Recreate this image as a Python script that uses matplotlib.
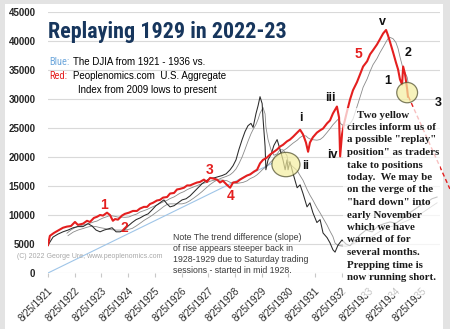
import numpy as np
import matplotlib
matplotlib.use("Agg")
import matplotlib.pyplot as plt
from matplotlib import font_manager
from matplotlib.patches import Ellipse, Rectangle

# Red: aggregate index 2009-present, shifted onto the 1921-1936 time axis
red_t = [1921.65, 1921.72, 1921.87, 1922.02, 1922.21, 1922.36, 1922.51, 1922.66, 1922.77, 1922.96,
         1923.11, 1923.22, 1923.37, 1923.49, 1923.60, 1923.71, 1923.86, 1923.97, 1924.08, 1924.16,
         1924.27, 1924.42, 1924.53, 1924.68, 1924.83, 1924.98, 1925.09, 1925.24, 1925.36, 1925.47,
         1925.58, 1925.73, 1925.84, 1925.96, 1926.11, 1926.22, 1926.37, 1926.48, 1926.59, 1926.74,
         1926.86, 1926.97, 1927.12, 1927.23, 1927.34, 1927.49, 1927.60, 1927.72, 1927.83, 1927.98,
         1928.09, 1928.20, 1928.35, 1928.47, 1928.58, 1928.73, 1928.84, 1928.95, 1929.10, 1929.22,
         1929.37, 1929.48, 1929.59, 1929.70, 1929.85, 1929.96, 1930.08, 1930.23, 1930.34, 1930.45,
         1930.60, 1930.71, 1930.83, 1930.98, 1931.09, 1931.20, 1931.31, 1931.39, 1931.46, 1931.57,
         1931.72, 1931.84, 1931.95, 1932.10, 1932.21, 1932.32, 1932.47, 1932.55, 1932.59, 1932.66,
         1932.74, 1932.85, 1932.96, 1933.07, 1933.22, 1933.34, 1933.45, 1933.60, 1933.71, 1933.82,
         1933.97, 1934.08, 1934.20, 1934.31, 1934.38, 1934.46, 1934.57, 1934.68, 1934.76, 1934.83,
         1934.91, 1934.95, 1935.02, 1935.10, 1935.13]
red_v = [4800, 6400, 6900, 7300, 7800, 8000, 8100, 8800, 8300, 8500,
         9000, 8800, 9500, 9700, 10000, 9900, 10400, 10000, 9000, 9300,
         9200, 9900, 10200, 10400, 10700, 10700, 11100, 11400, 11400, 11900,
         12100, 12500, 12600, 13000, 13100, 13700, 13800, 14400, 14500, 14700,
         15100, 15100, 15400, 15600, 15700, 16100, 15700, 16400, 16300, 16100,
         15600, 15900, 15200, 14700, 15600, 15700, 16100, 16400, 16800, 17000,
         17500, 17800, 18900, 19500, 19900, 20400, 20800, 21300, 21800, 22100,
         22700, 23000, 23500, 24200, 24700, 23900, 22500, 20900, 22500, 23400,
         24200, 24600, 24900, 25800, 26300, 27500, 28700, 26800, 20100, 23900,
         25800, 27900, 29900, 31500, 32900, 34300, 35600, 36500, 37700, 38400,
         39400, 40300, 41300, 41900, 41000, 39800, 38100, 36300, 35100, 33400,
         32500, 35600, 34300, 31700, 30400]

# projected "hard down" path
proj_t = [1935.15, 1936.70]
proj_v = [30400, 14500]

# Black: DJIA 1921-1936 (scaled)
dj_t = [1921.65, 1921.84, 1922.02, 1922.21, 1922.40, 1922.59, 1922.77, 1922.96, 1923.15, 1923.30,
        1923.45, 1923.60, 1923.75, 1923.90, 1924.05, 1924.20, 1924.35, 1924.50, 1924.65, 1924.80,
        1924.95, 1925.10, 1925.25, 1925.40, 1925.55, 1925.69, 1925.84, 1925.99, 1926.11, 1926.22,
        1926.37, 1926.52, 1926.67, 1926.82, 1926.97, 1927.12, 1927.27, 1927.42, 1927.57, 1927.72,
        1927.87, 1928.02, 1928.17, 1928.32, 1928.47, 1928.58, 1928.69, 1928.80, 1928.92, 1929.03,
        1929.14, 1929.25, 1929.33, 1929.44, 1929.52, 1929.59, 1929.67, 1929.70, 1929.78, 1929.81,
        1929.89, 1930.00, 1930.11, 1930.23, 1930.34, 1930.45, 1930.53, 1930.60, 1930.64, 1930.71,
        1930.83, 1930.98, 1931.09, 1931.20, 1931.35, 1931.46, 1931.57, 1931.72, 1931.84, 1931.95,
        1932.10, 1932.21, 1932.32, 1932.40, 1932.51, 1932.66, 1932.81, 1932.96, 1933.15, 1933.34,
        1933.56, 1933.79, 1934.01, 1934.23, 1934.46, 1934.68, 1934.91, 1935.13, 1935.36, 1935.58,
        1935.81, 1936.03, 1936.22]
dj_v = [4800, 6200, 6700, 7100, 7400, 7800, 8000, 8000, 8500, 8100,
        7400, 7100, 7400, 7600, 7800, 7100, 7100, 7400, 8100, 8700,
        9200, 9500, 9900, 10200, 10900, 11600, 12100, 12600, 11900, 11400,
        11600, 12100, 12600, 12800, 13300, 14000, 14700, 15400, 15900, 16300,
        16400, 16600, 16800, 17100, 17800, 18500, 19500, 21300, 23000, 24400,
        25400, 25800, 25100, 27500, 28900, 30400, 29200, 26800, 21800, 17800,
        19500, 20400, 22000, 23000, 21300, 19500, 17800, 19500, 17800, 19200,
        17100, 14700, 15200, 13700, 11400, 12100, 10400, 8700, 9200, 6900,
        6100, 5200, 4000, 3600, 4800, 5700, 5000, 4700, 5700, 6600,
        7400, 7100, 8100, 8500, 8800, 8600, 9300, 10200, 10900, 11600,
        12100, 12800, 13100]

trend_t = [1921.65, 1930.04]
trend_v = [0, 18900]

circle_t = [1930.56, 1935.10]
circle_v = [18700, 31100]

tick_years = list(range(1921, 1936))
y_ticks = list(range(0, 45001, 5000))

red_labels = [("1", 104, 205), ("2", 124, 228), ("3", 210, 170), ("4", 231, 196), ("5", 358, 54)]
wave_labels = [("i", 301, 118), ("ii", 306, 166), ("iii", 330, 98), ("iv", 332, 155),
               ("v", 382, 22), ("1", 388, 81), ("2", 408, 53), ("3", 438, 103)]

box_lines = ["Two yellow", "circles inform us of", 'a possible "replay"', 'position" as traders',
             "take to positions", "today.  We may be", "on the verge of the", '"hard down" into',
             "early November", "which we have", "warned of for", "several months.",
             "Prepping time is", "now running short."]
note_lines = ["Note The trend difference (slope)", "of rise appears steeper back in",
              "1928-1929 due to Saturday trading", "sessions - started in mid 1928."]

W, H = 450, 329
def fx(x):
    return x / W
def fy(y):
    return 1 - y / H

installed = {f.name for f in font_manager.fontManager.ttflist}
NARROW = next((n for n in ["Liberation Sans Narrow", "Roboto Condensed", "Open Sans Condensed",
                           "Arial Narrow", "Liberation Sans"] if n in installed), "DejaVu Sans")

RED = "#e41f1f"

fig = plt.figure(figsize=(W / 100, H / 100), dpi=100)
fig.patch.set_facecolor("#e3e3e3")
fig.add_artist(Rectangle((fx(5), 0), 438 / W, fy(4), transform=fig.transFigure,
                         facecolor="white", edgecolor="none", zorder=-10))

ax = fig.add_axes([fx(48), fy(273), (440 - 48) / W, (273 - 12) / H])
ax.set_facecolor("none")

def rolling(t, v, w):
    v = np.asarray(v, dtype=float)
    return np.asarray(t)[w - 1:], np.convolve(v, np.ones(w) / w, mode="valid")

ax.plot(trend_t, trend_v, color="#9fc5e8", lw=0.8, zorder=1)
mt, mv = rolling(dj_t, dj_v, 5)
ax.plot(mt, mv, color="#8a8a8a", lw=0.6, zorder=2)
mt, mv = rolling(red_t, red_v, 6)
ax.plot(mt, mv, color="#8a8a8a", lw=0.6, zorder=2)
ax.plot(dj_t, dj_v, color="#2a2a2a", lw=0.75, zorder=3)
ax.plot(red_t, red_v, color=RED, lw=1.5, zorder=3)
ax.plot(proj_t, proj_v, color=RED, lw=1.0, ls=(0, (3, 2)), zorder=3, clip_on=False)

for (ct, cv), w, h in zip(zip(circle_t, circle_v), [1.05, 0.78], [4200, 3500]):
    ax.add_patch(Ellipse((ct, cv), w, h, facecolor="#f4eea0", alpha=0.7,
                         edgecolor="#4a4a28", lw=0.9, zorder=4))

ax.set_xlim(1921.65, 1936.33)
ax.set_ylim(0, 45000)
ax.set_yticks(y_ticks)
ax.set_yticklabels([str(v) for v in y_ticks], fontsize=7, fontweight="bold",
                   family="Liberation Sans", color="#262626")
xt = [y + 0.65 for y in tick_years]
ax.set_xticks(xt)
ax.set_xticklabels(["8/25/%d" % y for y in tick_years], rotation=45, ha="right",
                   va="top", rotation_mode="anchor", fontsize=7,
                   family="Liberation Sans", color="#2a2a2a")
ax.tick_params(axis="y", length=0, pad=9)
ax.tick_params(axis="x", length=3, color="#c8c8c8", pad=6)
ax.grid(axis="y", color="#d9d9d9", lw=0.8)
ax.set_axisbelow(True)
for s in ax.spines.values():
    s.set_visible(False)

def fit_width(txt, width_px):
    fig.canvas.draw()
    w = txt.get_window_extent().width
    txt.set_fontsize(txt.get_fontsize() * width_px / w)

# title and legend-like text
title = fig.text(fx(48), fy(32), "Replaying 1929 in 2022-23", fontsize=16, fontweight="bold",
                 family=NARROW, color="#17365d", va="center")
fit_width(title, 238)
fig.text(fx(49), fy(62), "Blue:", fontsize=7.5, family=NARROW, color="#6fa8dc", va="center")
fig.text(fx(73), fy(62), "The DJIA from 1921 - 1936 vs.", fontsize=7,
         family="Liberation Sans", color="black", va="center")
fig.text(fx(49), fy(76), "Red:", fontsize=7.5, family=NARROW, color=RED, va="center")
fig.text(fx(73), fy(76), "Peoplenomics.com  U.S. Aggregate", fontsize=7,
         family="Liberation Sans", color="black", va="center")
fig.text(fx(78), fy(90), "Index from 2009 lows to present", fontsize=7,
         family="Liberation Sans", color="black", va="center")

fig.text(fx(17), fy(256), "(C) 2022 George Ure, www.peoplenomics.com", fontsize=5,
         family="Liberation Sans", color="#a8a8a8", va="center")

for i, line in enumerate(note_lines):
    fig.text(fx(173), fy(237 + i * 11.3), line, fontsize=6.3, family="Liberation Sans",
             color="#3c3c3c", va="center")

for s, x, y in red_labels:
    fig.text(fx(x), fy(y), s, fontsize=10, fontweight="bold", family="Liberation Sans",
             color=RED, ha="center", va="center")
for s, x, y in wave_labels:
    fig.text(fx(x), fy(y), s, fontsize=9, fontweight="bold", family="Liberation Sans",
             color="#111111", ha="center", va="center")

# semi-transparent note box
fig.add_artist(Rectangle((fx(343), fy(296)), 97 / W, 188 / H, transform=fig.transFigure,
                         facecolor="white", alpha=0.72, edgecolor="none", zorder=2))
for i, line in enumerate(box_lines):
    x = 357 if i == 0 else 347
    fig.text(fx(x), fy(115 + i * 12.5), line, fontsize=7.8, fontweight="bold",
             family="Liberation Serif", color="#1a1a1a", va="center", zorder=3)

fig.savefig("out.png", dpi=100)
